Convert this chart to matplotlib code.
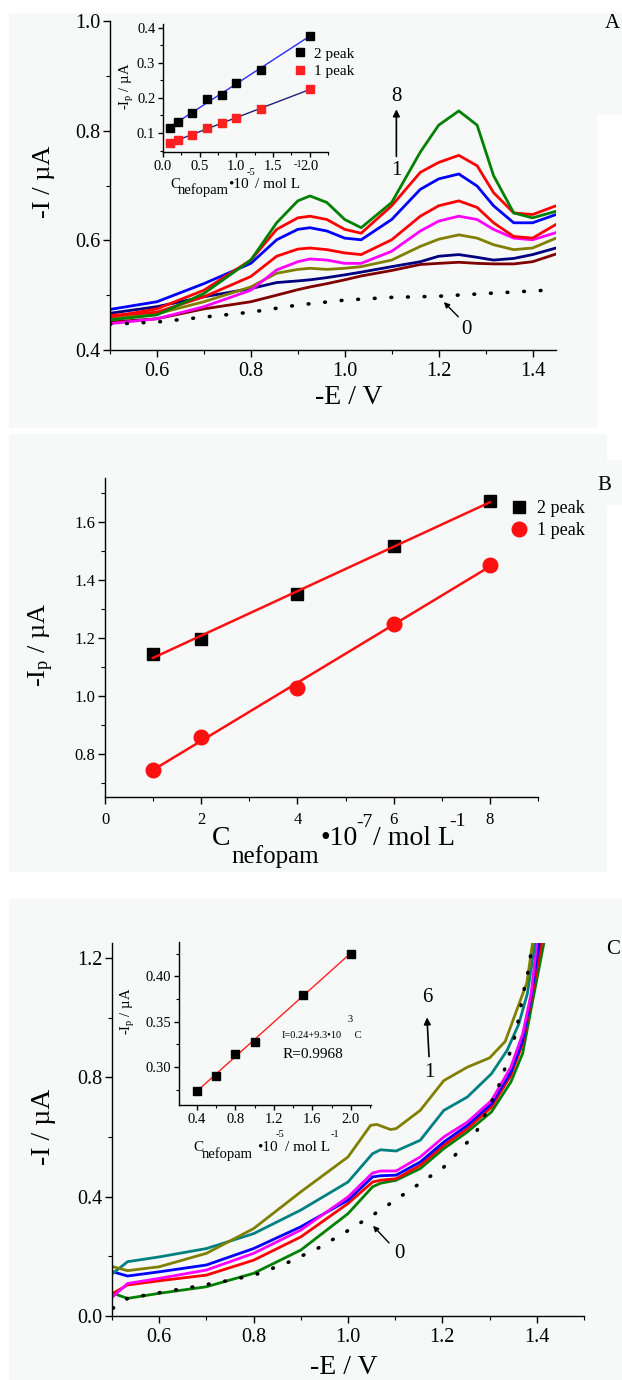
import matplotlib.pyplot as plt
import numpy as np
from matplotlib.patches import Rectangle
from matplotlib.ticker import MultipleLocator, FormatStrFormatter

plt.rcParams['font.family'] = ['Liberation Serif', 'DejaVu Serif']
plt.rcParams['mathtext.fontset'] = 'custom'
plt.rcParams['mathtext.rm'] = 'Liberation Serif'
plt.rcParams['mathtext.it'] = 'Liberation Serif:italic'

W, H = 622, 1380
BG = '#f7f8f8'

# ---------------- panel A: voltammograms ----------------
E_a = [0.50, 0.60, 0.70, 0.80, 0.855, 0.90, 0.926, 0.962, 1.00, 1.035, 1.10,
       1.161, 1.20, 1.243, 1.282, 1.317, 1.36, 1.40, 1.45]
I_a8 = [0.455, 0.464, 0.503, 0.564, 0.632, 0.672, 0.681, 0.669, 0.638, 0.623, 0.669,
        0.761, 0.810, 0.836, 0.810, 0.718, 0.650, 0.641, 0.653]
I_a7 = [0.460, 0.475, 0.509, 0.564, 0.620, 0.641, 0.644, 0.638, 0.620, 0.613, 0.663,
        0.724, 0.742, 0.755, 0.736, 0.687, 0.650, 0.647, 0.663]
I_a6 = [0.474, 0.488, 0.521, 0.558, 0.601, 0.620, 0.623, 0.617, 0.604, 0.601, 0.638,
        0.693, 0.712, 0.721, 0.699, 0.663, 0.632, 0.632, 0.647]
I_a5 = [0.463, 0.469, 0.497, 0.534, 0.571, 0.584, 0.586, 0.583, 0.577, 0.574, 0.601,
        0.644, 0.663, 0.672, 0.660, 0.632, 0.607, 0.604, 0.629]
I_a4 = [0.448, 0.457, 0.479, 0.509, 0.546, 0.561, 0.566, 0.564, 0.558, 0.558, 0.580,
        0.617, 0.635, 0.644, 0.638, 0.620, 0.604, 0.601, 0.614]
I_a3 = [0.460, 0.466, 0.488, 0.515, 0.540, 0.547, 0.549, 0.547, 0.549, 0.552, 0.564,
        0.589, 0.602, 0.610, 0.604, 0.592, 0.583, 0.586, 0.604]
I_a2 = [0.467, 0.479, 0.497, 0.512, 0.523, 0.526, 0.528, 0.532, 0.537, 0.542, 0.552,
        0.561, 0.571, 0.574, 0.569, 0.564, 0.567, 0.574, 0.586]
I_a1 = [0.451, 0.457, 0.475, 0.488, 0.500, 0.510, 0.515, 0.521, 0.528, 0.535, 0.545,
        0.556, 0.558, 0.560, 0.558, 0.557, 0.557, 0.561, 0.575]
E_a0 = [0.50, 0.60, 0.70, 0.80, 0.90, 1.00, 1.10, 1.20, 1.30, 1.43]
I_a0 = [0.447, 0.451, 0.460, 0.469, 0.482, 0.491, 0.496, 0.498, 0.503, 0.509]
curves_a = [(I_a1, '#800000'), (I_a2, '#000080'), (I_a3, '#808000'), (I_a4, '#ff00ff'),
            (I_a5, '#ff0000'), (I_a6, '#0000ff'), (I_a7, '#ff0000'), (I_a8, '#008000')]

# panel A inset
c_ins_a = [0.1, 0.2, 0.4, 0.6, 0.8, 1.0, 1.33, 2.0]
ip2_ins_a = [0.115, 0.130, 0.158, 0.197, 0.209, 0.242, 0.280, 0.376]
ip1_ins_a = [0.072, 0.080, 0.094, 0.115, 0.128, 0.144, 0.167, 0.225]

# ---------------- panel B ----------------
c_b = [1, 2, 4, 6, 8]
ip2_b = [1.145, 1.197, 1.350, 1.518, 1.672]
ip1_b = [0.742, 0.857, 1.027, 1.247, 1.451]

# ---------------- panel C ----------------
E_c6 = [0.502, 0.533, 0.60, 0.70, 0.80, 0.90, 1.00, 1.048, 1.061, 1.09, 1.102, 1.153,
        1.203, 1.253, 1.30, 1.333, 1.354, 1.379, 1.391]
I_c6 = [0.165, 0.152, 0.165, 0.210, 0.293, 0.416, 0.533, 0.639, 0.642, 0.625, 0.628, 0.689,
        0.789, 0.834, 0.865, 0.920, 1.010, 1.117, 1.25]
E_c5 = [0.502, 0.533, 0.60, 0.70, 0.80, 0.90, 1.00, 1.052, 1.069, 1.102, 1.153, 1.203,
        1.253, 1.304, 1.337, 1.362, 1.380, 1.396]
I_c5 = [0.143, 0.182, 0.198, 0.226, 0.276, 0.355, 0.449, 0.544, 0.557, 0.553, 0.589, 0.689,
        0.734, 0.812, 0.890, 0.979, 1.080, 1.25]
E_c = [0.502, 0.533, 0.60, 0.70, 0.80, 0.90, 1.00, 1.052, 1.069, 1.102, 1.153, 1.203,
       1.253, 1.304, 1.345, 1.37, 1.388]
I_c4 = [0.065, 0.109, 0.126, 0.154, 0.210, 0.288, 0.399, 0.479, 0.486, 0.486, 0.533, 0.600,
        0.650, 0.722, 0.834, 0.945, 1.080]
I_c3 = [0.148, 0.134, 0.148, 0.171, 0.226, 0.299, 0.388, 0.466, 0.470, 0.472, 0.516, 0.583,
        0.639, 0.711, 0.817, 0.923, 1.070]
I_c2 = [0.076, 0.104, 0.118, 0.137, 0.187, 0.265, 0.377, 0.449, 0.455, 0.460, 0.505, 0.572,
        0.628, 0.700, 0.806, 0.912, 1.060]
I_c1 = [0.076, 0.059, 0.076, 0.098, 0.143, 0.221, 0.343, 0.433, 0.445, 0.455, 0.494, 0.561,
        0.617, 0.684, 0.784, 0.880, 1.030]
E_c_end = {4: 1.400, 3: 1.405, 2: 1.410, 1: 1.415}
E_c0 = [0.502, 0.533, 0.60, 0.667, 0.734, 0.801, 0.868, 0.935, 1.002, 1.069, 1.136, 1.203,
        1.27, 1.311, 1.327, 1.337, 1.348, 1.357, 1.364, 1.371, 1.38, 1.39]
I_c0 = [0.026, 0.059, 0.078, 0.096, 0.115, 0.137, 0.176, 0.226, 0.288, 0.355, 0.427, 0.499,
        0.611, 0.740, 0.800, 0.855, 0.905, 0.960, 1.017, 1.080, 1.140, 1.240]

# panel C inset
c_ins_c = [0.4, 0.6, 0.8, 1.0, 1.5, 2.0]
ip_ins_c = [0.274, 0.290, 0.314, 0.328, 0.380, 0.425]


def fx(x):
    return x / W


def fy(y):
    return 1 - y / H


def ax_px(left, top, right, bottom):
    return [fx(left), fy(bottom), (right - left) / W, (bottom - top) / H]


def style(ax, size):
    for s in ['top', 'right']:
        ax.spines[s].set_visible(False)
    for s in ['left', 'bottom']:
        ax.spines[s].set_linewidth(1.0)
    ax.set_facecolor('none')
    ax.tick_params(which='major', direction='out', length=5, width=1, labelsize=size, pad=2)
    ax.tick_params(which='minor', direction='out', length=3, width=0.8)


def ftext(x, y, s, size, **kw):
    fig.text(fx(x), fy(y), s, fontsize=size, transform=fig.transFigure, **kw)


fig = plt.figure(figsize=(W / 100, H / 100), dpi=100, facecolor='white')

# grey panel backgrounds
for (l, t, r, b) in [(9, 13, 597, 428), (597, 13, 622, 115), (9, 434, 607, 872),
                     (595, 460, 622, 505), (9, 899, 622, 1380)]:
    fig.patches.append(Rectangle((fx(l), fy(b)), (r - l) / W, (b - t) / H,
                                 transform=fig.transFigure, facecolor=BG,
                                 edgecolor='none', zorder=-10))

dots = dict(color='black', lw=2.6, linestyle=(0, (0.2, 4.4)), dash_capstyle='round')

# ---------- A ----------
axA = fig.add_axes(ax_px(110, 21, 556, 350))
style(axA, 14.5)
for I, col in curves_a:
    axA.plot(E_a, I, color=col, lw=2)
axA.plot(E_a0, I_a0, **dots)
axA.set_xlim(0.5, 1.45)
axA.set_ylim(0.4, 1.0)
axA.xaxis.set_major_locator(MultipleLocator(0.2))
axA.xaxis.set_minor_locator(MultipleLocator(0.1))
axA.yaxis.set_major_locator(MultipleLocator(0.2))
axA.yaxis.set_minor_locator(MultipleLocator(0.1))
axA.xaxis.set_major_formatter(FormatStrFormatter('%.1f'))
axA.yaxis.set_major_formatter(FormatStrFormatter('%.1f'))
axA.tick_params(axis='x', pad=4)
axA.annotate('', xy=(1.11, 0.844), xytext=(1.11, 0.748),
             arrowprops=dict(arrowstyle='-|>', color='black', lw=1.2, mutation_scale=10))
axA.text(1.11, 0.862, '8', ha='center', va='center', fontsize=15)
axA.text(1.11, 0.728, '1', ha='center', va='center', fontsize=15)
axA.annotate('', xy=(1.207, 0.491), xytext=(1.246, 0.457),
             arrowprops=dict(arrowstyle='-|>', color='black', lw=1, mutation_scale=8))
axA.text(1.259, 0.437, '0', ha='center', va='center', fontsize=15)
ftext(349, 398, '-E / V', 20, ha='center', va='center')
ftext(44, 182, '-I / µA', 19, ha='center', va='center', rotation=90)
ftext(612, 23, 'A', 15, ha='center', va='center')

# A inset
axAi = fig.add_axes(ax_px(163, 24, 328, 152))
style(axAi, 10.5)
for ip, lc in [(ip2_ins_a, '#2a2aff'), (ip1_ins_a, '#20207a')]:
    k, b0 = np.polyfit(c_ins_a, ip, 1)
    xx = np.array([c_ins_a[0], c_ins_a[-1]])
    axAi.plot(xx, k * xx + b0, color=lc, lw=1)
axAi.plot(c_ins_a, ip2_ins_a, 's', color='black', ms=5.5, label='2 peak')
axAi.plot(c_ins_a, ip1_ins_a, 's', color='#ff2020', ms=5.5, label='1 peak')
axAi.set_xlim(0, 2.25)
axAi.set_ylim(0.046, 0.41)
axAi.xaxis.set_major_locator(MultipleLocator(0.5))
axAi.xaxis.set_minor_locator(MultipleLocator(0.25))
axAi.yaxis.set_major_locator(MultipleLocator(0.1))
axAi.yaxis.set_minor_locator(MultipleLocator(0.05))
axAi.xaxis.set_major_formatter(FormatStrFormatter('%.1f'))
axAi.yaxis.set_major_formatter(FormatStrFormatter('%.1f'))
axAi.tick_params(which='major', length=3.5)
axAi.tick_params(which='minor', length=2)
axAi.legend(loc='upper left', bbox_to_anchor=(fx(294), fy(47)), bbox_transform=fig.transFigure,
            frameon=False, fontsize=11, handlelength=0.8, handletextpad=0.5,
            borderpad=0, labelspacing=0.25, borderaxespad=0)
ftext(127, 86, r'-I$_\mathrm{p}$ / µA', 10.5, ha='center', va='center', rotation=90)
ftext(170, 188, 'C', 10.5, ha='left', va='baseline')
ftext(178, 194, 'nefopam', 10.5, ha='left', va='baseline')
ftext(228, 188, '•10', 11, ha='left', va='baseline')
ftext(247, 175, '-5', 7.5, ha='left', va='baseline')
ftext(255, 188, '/ mol L', 11, ha='left', va='baseline')
ftext(294, 167, '-1', 7.5, ha='left', va='baseline')

# ---------- B ----------
axB = fig.add_axes(ax_px(105, 478, 538, 797))
style(axB, 12)
for ip in [ip2_b, ip1_b]:
    k, b0 = np.polyfit(c_b, ip, 1)
    xx = np.array([c_b[0], c_b[-1]])
    axB.plot(xx, k * xx + b0, color='#ff1010', lw=1.8, zorder=3)
axB.plot(c_b, ip2_b, 's', color='black', ms=9, label='2 peak', zorder=2)
axB.plot(c_b, ip1_b, 'o', color='#ff1010', ms=10.5, label='1 peak', zorder=2)
axB.set_xlim(0, 9)
axB.set_ylim(0.65, 1.752)
axB.xaxis.set_major_locator(MultipleLocator(2))
axB.xaxis.set_minor_locator(MultipleLocator(1))
axB.yaxis.set_major_locator(MultipleLocator(0.2))
axB.yaxis.set_minor_locator(MultipleLocator(0.1))
axB.yaxis.set_major_formatter(FormatStrFormatter('%.1f'))
axB.tick_params(axis='x', pad=6)
axB.legend(loc='upper left', bbox_to_anchor=(fx(512), fy(500)), bbox_transform=fig.transFigure,
           frameon=False, fontsize=13, handlelength=0.8, handletextpad=0.6,
           borderpad=0, labelspacing=0.3, borderaxespad=0)
ftext(41, 645, r'-I$_\mathrm{p}$ / µA', 19, ha='center', va='center', rotation=90)
ftext(212, 845, 'C', 20, ha='left', va='baseline')
ftext(231, 863, 'nefopam', 18, ha='left', va='baseline')
ftext(320, 845, '•10', 20, ha='left', va='baseline')
ftext(356, 827, '-7', 14, ha='left', va='baseline')
ftext(373, 845, '/ mol L', 20, ha='left', va='baseline')
ftext(449, 826, '-1', 14, ha='left', va='baseline')
ftext(604, 486, 'B', 15, ha='center', va='center')

# ---------- C ----------
axC = fig.add_axes(ax_px(112, 943, 584, 1316))
style(axC, 14.5)
axC.plot(E_c + [E_c_end[1]], I_c1 + [1.25], color='#008000', lw=2)
axC.plot(E_c + [E_c_end[2]], I_c2 + [1.25], color='#ff0000', lw=2)
axC.plot(E_c + [E_c_end[3]], I_c3 + [1.25], color='#0000ff', lw=2)
axC.plot(E_c + [E_c_end[4]], I_c4 + [1.25], color='#ff00ff', lw=2)
axC.plot(E_c5, I_c5, color='#008080', lw=2)
axC.plot(E_c6, I_c6, color='#808000', lw=2)
axC.plot(E_c0, I_c0, **dots)
axC.set_xlim(0.5, 1.5)
axC.set_ylim(0, 1.25)
axC.xaxis.set_major_locator(MultipleLocator(0.2))
axC.xaxis.set_minor_locator(MultipleLocator(0.1))
axC.yaxis.set_major_locator(MultipleLocator(0.4))
axC.yaxis.set_minor_locator(MultipleLocator(0.2))
axC.xaxis.set_major_formatter(FormatStrFormatter('%.1f'))
axC.yaxis.set_major_formatter(FormatStrFormatter('%.1f'))
axC.tick_params(axis='x', pad=4)
axC.annotate('', xy=(1.167, 1.01), xytext=(1.172, 0.86),
             arrowprops=dict(arrowstyle='-|>', color='black', lw=1.2, mutation_scale=10))
axC.text(1.167, 1.067, '6', ha='center', va='center', fontsize=15)
axC.text(1.172, 0.815, '1', ha='center', va='center', fontsize=15)
axC.annotate('', xy=(1.049, 0.309), xytext=(1.091, 0.238),
             arrowprops=dict(arrowstyle='-|>', color='black', lw=1, mutation_scale=8))
axC.text(1.108, 0.209, '0', ha='center', va='center', fontsize=15)
ftext(344, 1367, '-E / V', 20, ha='center', va='center')
ftext(44, 1127, '-I / µA', 20, ha='center', va='center', rotation=90)
ftext(613, 950, 'C', 15, ha='center', va='center')

# C inset
axCi = fig.add_axes(ax_px(179, 942, 371, 1105))
style(axCi, 10.5)
k, b0 = np.polyfit(c_ins_c, ip_ins_c, 1)
xx = np.array([c_ins_c[0], c_ins_c[-1]])
axCi.plot(xx, k * xx + b0, color='#ff2020', lw=1)
axCi.plot(c_ins_c, ip_ins_c, 's', color='black', ms=5.5)
axCi.set_xlim(0.215, 2.21)
axCi.set_ylim(0.258, 0.438)
axCi.xaxis.set_major_locator(MultipleLocator(0.4))
axCi.xaxis.set_minor_locator(MultipleLocator(0.2))
axCi.yaxis.set_major_locator(MultipleLocator(0.05))
axCi.yaxis.set_minor_locator(MultipleLocator(0.025))
axCi.xaxis.set_major_formatter(FormatStrFormatter('%.1f'))
axCi.yaxis.set_major_formatter(FormatStrFormatter('%.2f'))
axCi.tick_params(which='major', length=3.5)
axCi.tick_params(which='minor', length=2)
ftext(282, 1038, 'I=0.24+9.3•10', 7.5, ha='left', va='baseline')
ftext(347, 1022, '3', 7.5, ha='left', va='baseline')
ftext(352, 1038, ' C', 7.5, ha='left', va='baseline')
ftext(283, 1058, 'R=0.9968', 11, ha='left', va='baseline')
ftext(128, 1011, r'-I$_\mathrm{p}$ / µA', 10.5, ha='center', va='center', rotation=90)
ftext(193, 1151, 'C', 11, ha='left', va='baseline')
ftext(202, 1158, 'nefopam', 10.5, ha='left', va='baseline')
ftext(257, 1151, '•10', 11, ha='left', va='baseline')
ftext(276, 1137, '-5', 7.5, ha='left', va='baseline')
ftext(285, 1151, '/ mol L', 11, ha='left', va='baseline')
ftext(331, 1137, '-1', 7.5, ha='left', va='baseline')

fig.savefig('out.png', dpi=100, facecolor='white')
